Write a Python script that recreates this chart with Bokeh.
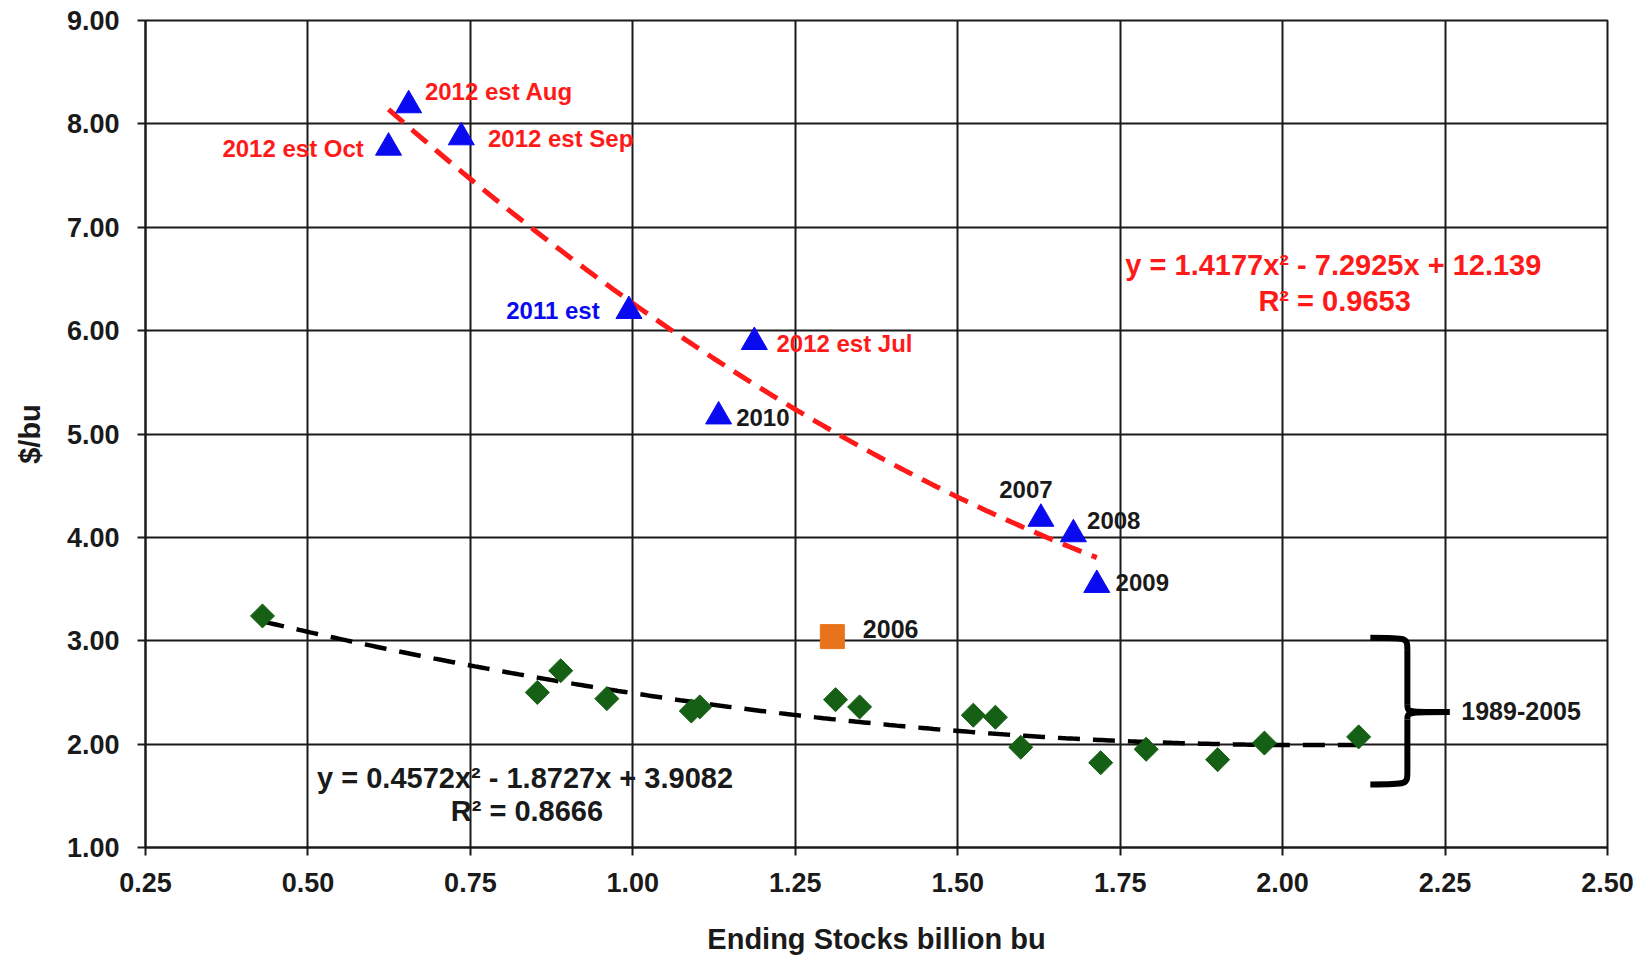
import numpy as np
from bokeh.plotting import figure
from bokeh.models import FixedTicker, PrintfTickFormatter, ColumnDataSource
from bokeh.core.properties import value
from bokeh.embed import file_html
from bokeh.resources import INLINE

# ---------------- data ----------------
# 1989-2005 (green diamonds)
hist_x = [0.430, 0.853, 0.889, 0.960, 1.090, 1.103, 1.312, 1.349, 1.524, 1.558,
          1.597, 1.720, 1.790, 1.900, 1.972, 2.117]
hist_y = [3.24, 2.50, 2.71, 2.44, 2.32, 2.36, 2.43, 2.36, 2.28, 2.26,
          1.97, 1.82, 1.95, 1.85, 2.01, 2.07]

# 2006 (orange square)
y2006_x = [1.307]
y2006_y = [3.04]

# 2007-2012 (blue triangles)
recent_names = ["2012 est Aug", "2012 est Sep", "2012 est Oct", "2011 est",
                "2012 est Jul", "2010", "2007", "2008", "2009"]
recent_x = [0.655, 0.736, 0.624, 0.994, 1.187, 1.132, 1.628, 1.678, 1.714]
recent_y = [8.18, 7.87, 7.77, 6.19, 5.89, 5.17, 4.18, 4.03, 3.54]

# trend line coefficients (as shown on chart)
recent_coef = [1.4177, -7.2925, 12.139]
recent_r2 = 0.9653
hist_coef = [0.4572, -1.8727, 3.9082]
hist_r2 = 0.8666

x_ticks = [0.25, 0.50, 0.75, 1.00, 1.25, 1.50, 1.75, 2.00, 2.25, 2.50]
y_ticks = [1.0, 2.0, 3.0, 4.0, 5.0, 6.0, 7.0, 8.0, 9.0]

FONT = value("Liberation Sans")
RED = "#FF1A1A"
BLUE = "#0A0AF0"
GREEN = "#156015"
ORANGE = "#E8731C"
INK = "#1a1a1a"

p = figure(frame_width=1462, frame_height=827,
           min_border_left=145, min_border_right=27,
           min_border_top=20, min_border_bottom=94,
           x_range=(0.25, 2.50), y_range=(1.0, 9.0),
           output_backend="svg", toolbar_location=None,
           background_fill_color="white", border_fill_color="white")

# grid & axes
for ax in (p.xaxis, p.yaxis):
    ax.axis_line_color = INK
    ax.axis_line_width = 2
    ax.major_tick_line_color = INK
    ax.major_tick_line_width = 2
    ax.major_tick_out = 8
    ax.major_tick_in = 0
    ax.minor_tick_line_color = None
    ax.major_label_text_font = "Liberation Sans"
    ax.major_label_text_font_style = "bold"
    ax.major_label_text_font_size = "27px"
    ax.major_label_text_color = INK
    ax.axis_label_text_font = "Liberation Sans"
    ax.axis_label_text_font_style = "bold"
    ax.axis_label_text_font_size = "29px"
    ax.axis_label_text_color = INK
    ax.formatter = PrintfTickFormatter(format="%.2f")

p.xaxis.ticker = FixedTicker(ticks=x_ticks)
p.yaxis.ticker = FixedTicker(ticks=y_ticks)
p.xaxis.axis_label = "Ending Stocks billion bu"
p.yaxis.axis_label = "$/bu"
p.xaxis.major_label_standoff = 17
p.yaxis.major_label_standoff = 18
p.xaxis.axis_label_standoff = 28
p.yaxis.axis_label_standoff = 18

p.xgrid.ticker = FixedTicker(ticks=x_ticks)
p.ygrid.ticker = FixedTicker(ticks=y_ticks)
for g in (p.xgrid, p.ygrid):
    g.grid_line_color = INK
    g.grid_line_width = 2
p.outline_line_color = INK
p.outline_line_width = 2

# trend lines
rx = np.linspace(min(recent_x), max(recent_x), 200)
p.line(rx, np.polyval(recent_coef, rx), line_color=RED, line_width=5, line_dash="20 11")
hx = np.linspace(min(hist_x), max(hist_x), 300)
p.line(hx, np.polyval(hist_coef, hx), line_color="black", line_width=4.5, line_dash="22 13")

# markers
p.scatter(hist_x, hist_y, marker="square", size=17, angle=np.pi / 4,
          fill_color=GREEN, line_color=GREEN)
p.scatter(y2006_x, y2006_y, marker="square", size=24,
          fill_color=ORANGE, line_color=ORANGE)
p.scatter(recent_x, recent_y, marker="triangle", size=26,
          fill_color=BLUE, line_color=BLUE)

# point labels (layout positions)
label_layout = {
    "2012 est Aug": (0.680, 8.31, "left", RED),
    "2012 est Sep": (0.777, 7.86, "left", RED),
    "2012 est Oct": (0.586, 7.76, "right", RED),
    "2011 est": (0.949, 6.19, "right", BLUE),
    "2012 est Jul": (1.221, 5.88, "left", RED),
    "2010": (1.159, 5.16, "left", INK),
    "2007": (1.605, 4.46, "center", INK),
    "2008": (1.699, 4.16, "left", INK),
    "2009": (1.743, 3.56, "left", INK),
}
lab = ColumnDataSource(dict(
    x=[label_layout[n][0] for n in recent_names],
    y=[label_layout[n][1] for n in recent_names],
    text=recent_names,
    align=[label_layout[n][2] for n in recent_names],
    color=[label_layout[n][3] for n in recent_names],
))
p.text(x="x", y="y", text="text", text_align="align", text_color="color",
       text_baseline="middle", text_font=FONT, text_font_style="bold",
       text_font_size="24px", source=lab)

p.text([1.354], [3.11], ["2006"], text_align="left", text_baseline="middle",
       text_color=INK, text_font=FONT, text_font_style="bold", text_font_size="25px")

# equations
def eq_text(c):
    def term(v, suffix, first=False):
        s = f"{abs(v):g}{suffix}"
        if first:
            return ("-" if v < 0 else "") + s
        return (" - " if v < 0 else " + ") + s
    return "y = " + term(c[0], "x²", True) + term(c[1], "x") + term(c[2], "")

EQ = "29px"
p.text([1.758], [6.63], [eq_text(recent_coef)], text_align="left", text_baseline="middle",
       text_color=RED, text_font=FONT, text_font_style="bold", text_font_size=EQ)
p.text([2.080], [6.29], [f"R² = {recent_r2:.4f}"], text_align="center", text_baseline="middle",
       text_color=RED, text_font=FONT, text_font_style="bold", text_font_size=EQ)
p.text([0.514], [1.67], [eq_text(hist_coef)], text_align="left", text_baseline="middle",
       text_color=INK, text_font=FONT, text_font_style="bold", text_font_size=EQ)
p.text([0.837], [1.35], [f"R² = {hist_r2:.4f}"], text_align="center", text_baseline="middle",
       text_color=INK, text_font=FONT, text_font_style="bold", text_font_size=EQ)

# brace marking 1989-2005
brace = dict(tip=2.135, spine=2.192, point=2.257, top=3.03, mid=2.31, bottom=1.61,
             hook=0.12, join=0.07)
b = brace
bz = dict(
    x0=[b["tip"], b["spine"], b["spine"], b["spine"]],
    y0=[b["top"], b["mid"] + b["join"], b["mid"] - b["join"], b["bottom"] + b["hook"]],
    x1=[b["spine"], b["point"], b["point"], b["tip"]],
    y1=[b["top"] - b["hook"], b["mid"], b["mid"], b["bottom"]],
    cx0=[b["spine"], b["spine"], b["spine"], b["spine"]],
    cy0=[b["top"], b["mid"], b["mid"], b["bottom"]],
    cx1=[b["spine"], b["spine"], b["spine"], b["spine"]],
    cy1=[b["top"], b["mid"], b["mid"], b["bottom"]],
)
p.bezier(source=ColumnDataSource(bz), x0="x0", y0="y0", x1="x1", y1="y1",
         cx0="cx0", cy0="cy0", cx1="cx1", cy1="cy1", line_color="black", line_width=6)
p.segment(x0=[b["spine"], b["spine"]], y0=[b["top"] - b["hook"], b["mid"] - b["join"]],
          x1=[b["spine"], b["spine"]], y1=[b["mid"] + b["join"], b["bottom"] + b["hook"]],
          line_color="black", line_width=6)
p.text([2.275], [2.32], ["1989-2005"], text_align="left", text_baseline="middle",
       text_color=INK, text_font=FONT, text_font_style="bold", text_font_size="25px")

open("out.html", "w").write(file_html(p, INLINE))
